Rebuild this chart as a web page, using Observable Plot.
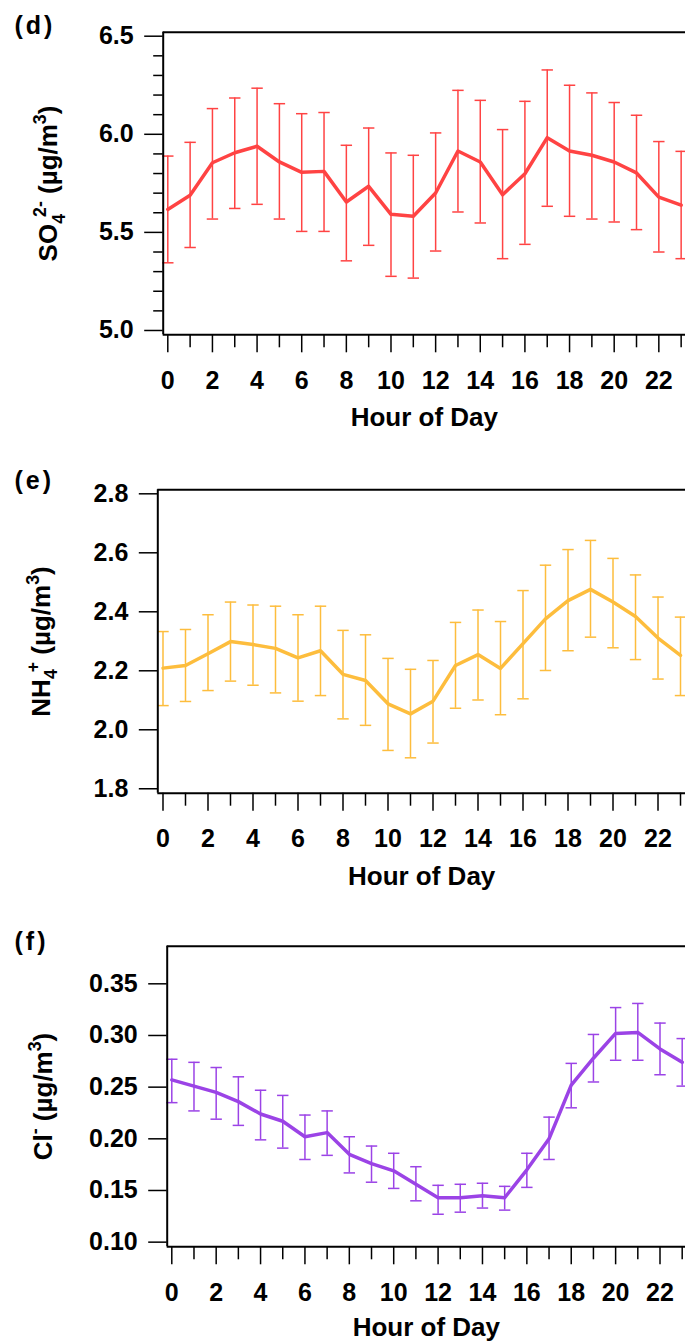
<!DOCTYPE html>
<html><head><meta charset="utf-8">
<script src="https://cdn.jsdelivr.net/npm/d3@7"></script>
<script src="https://cdn.jsdelivr.net/npm/@observablehq/plot@0.6"></script>
<style>
html,body{margin:0;padding:0;background:#fff;overflow:hidden}
#chart svg{display:block}
</style>
</head><body><div id="chart"></div>
<script>
// ---- data ----
const hours = [0,1,2,3,4,5,6,7,8,9,10,11,12,13,14,15,16,17,18,19,20,21,22,23];
const xTickLabels = [0,2,4,6,8,10,12,14,16,18,20,22];
const xMinorTicks = [1,3,5,7,9,11,13,15,17,19,21,23];

const so4Mean = [5.617,5.689,5.855,5.906,5.939,5.859,5.806,5.811,5.655,5.735,5.592,5.582,5.701,5.915,5.859,5.692,5.799,5.983,5.915,5.893,5.859,5.803,5.680,5.639];
const so4Hi   = [5.889,5.959,6.131,6.185,6.235,6.156,6.105,6.111,5.944,6.032,5.905,5.893,6.007,6.224,6.173,6.024,6.168,6.328,6.250,6.211,6.162,6.097,5.963,5.913];
const so4Lo   = [5.345,5.423,5.568,5.622,5.643,5.568,5.505,5.505,5.355,5.434,5.276,5.267,5.405,5.604,5.548,5.366,5.439,5.633,5.582,5.568,5.553,5.514,5.400,5.366];
const so4Ticks = [5.0,5.5,6.0,6.5];
const so4Minor = [5.1,5.2,5.3,5.4,5.6,5.7,5.8,5.9,6.1,6.2,6.3,6.4];

const nh4Mean = [2.209,2.218,2.258,2.299,2.289,2.276,2.244,2.268,2.188,2.167,2.088,2.054,2.097,2.218,2.255,2.208,2.292,2.376,2.438,2.476,2.433,2.384,2.311,2.252];
const nh4Hi   = [2.333,2.340,2.390,2.433,2.423,2.419,2.390,2.419,2.337,2.322,2.242,2.205,2.235,2.364,2.406,2.367,2.472,2.558,2.611,2.642,2.581,2.525,2.450,2.382];
const nh4Lo   = [2.082,2.096,2.133,2.165,2.151,2.125,2.097,2.116,2.037,2.015,1.930,1.905,1.955,2.073,2.101,2.051,2.105,2.201,2.268,2.314,2.278,2.238,2.172,2.116];
const nh4Ticks = [1.8,2.0,2.2,2.4,2.6,2.8];

const clMean = [0.257,0.251,0.245,0.236,0.224,0.217,0.202,0.206,0.185,0.176,0.169,0.156,0.143,0.143,0.145,0.143,0.170,0.200,0.252,0.278,0.302,0.303,0.287,0.274];
const clHi   = [0.277,0.274,0.269,0.260,0.247,0.242,0.223,0.227,0.202,0.193,0.186,0.173,0.155,0.156,0.157,0.154,0.186,0.221,0.273,0.301,0.327,0.331,0.312,0.297];
const clLo   = [0.235,0.227,0.219,0.213,0.199,0.191,0.180,0.184,0.167,0.158,0.152,0.140,0.127,0.129,0.133,0.131,0.153,0.180,0.230,0.255,0.276,0.276,0.262,0.251];
const clTicks = [0.10,0.15,0.20,0.25,0.30,0.35];

const xTitle = "Hour of Day";

// ---- drawing ----
const FONT = "'Liberation Sans', Arial, Helvetica, sans-serif";
const NS = "http://www.w3.org/2000/svg";
const capSymbol = {draw(ctx, size){ const w = Math.sqrt(size/Math.PI); ctx.moveTo(-w,0); ctx.lineTo(w,0); }};

function richLabel(svg, plain, parts, fs){
  const t = [...svg.querySelectorAll("text")].find(e => e.textContent === plain);
  if (!t) return;
  t.textContent = "";
  let cur = 0;
  for (const p of parts){
    const ts = document.createElementNS(NS, "tspan");
    const off = p.s === "sub" ? 0.28*fs : p.s === "sup" ? -0.42*fs : 0;
    ts.setAttribute("dy", (off - cur).toFixed(2));
    if (p.dx) ts.setAttribute("dx", p.dx);
    cur = off;
    if (p.s) ts.setAttribute("font-size", (0.68*fs).toFixed(1));
    ts.textContent = p.t;
    t.appendChild(ts);
  }
}

function makePanel(cfg){
  const rows = hours.map((h,i) => ({hour:h, mean:cfg.mean[i], hi:cfg.hi[i], lo:cfg.lo[i]}));
  const marks = [
    Plot.ruleX(rows, {x:"hour", y1:"lo", y2:"hi", stroke:cfg.color, strokeWidth:1.5}),
    Plot.dot(rows, {x:"hour", y:"hi", symbol:capSymbol, r:5.7, fill:"none", stroke:cfg.color, strokeWidth:1.5}),
    Plot.dot(rows, {x:"hour", y:"lo", symbol:capSymbol, r:5.7, fill:"none", stroke:cfg.color, strokeWidth:1.5}),
    Plot.line(rows, {x:"hour", y:"mean", stroke:cfg.color, strokeWidth:3.5, strokeLinejoin:"round"}),
    Plot.ruleY([cfg.yd[1]], {stroke:"black", strokeWidth:2}),
    Plot.ruleY([cfg.yd[0]], {stroke:"black", strokeWidth:2}),
    Plot.ruleX([cfg.xd[0]], {stroke:"black", strokeWidth:2}),
    Plot.axisY(cfg.yTicks, {anchor:"left", label:null, tickSize:18.5, tickPadding:11, tickFormat:d3.format(cfg.fmt), fontSize:25, fontWeight:"bold", strokeWidth:1.5}),
    Plot.axisX(xTickLabels, {anchor:"bottom", label:null, tickSize:18, tickPadding:18.5, tickFormat:d3.format("d"), fontSize:25, fontWeight:"bold", strokeWidth:1.5}),
    Plot.axisX(xMinorTicks, {anchor:"bottom", label:null, tickSize:13, tickFormat:() => "", strokeWidth:1.5}),
    Plot.text([xTitle], {frameAnchor:"bottom", lineAnchor:"middle", dy:cfg.titleDy, fontSize:26, fontWeight:"bold"}),
    Plot.text([cfg.yPlain], {frameAnchor:"left", rotate:-90, textAnchor:"middle", lineAnchor:"middle", dx:cfg.yDx, fontSize:26, fontWeight:"bold"}),
    Plot.text([cfg.tag], {frameAnchor:"top-left", textAnchor:"start", lineAnchor:"bottom", dx:cfg.tagDx, dy:cfg.tagDy, fontSize:25, fontWeight:"bold"})
  ];
  if (cfg.yMinor) marks.splice(8, 0, Plot.axisY(cfg.yMinor, {anchor:"left", label:null, tickSize:9.5, tickFormat:() => "", strokeWidth:1.5}));
  const svg = Plot.plot({
    width:685, height:cfg.height,
    marginTop:cfg.mt, marginBottom:cfg.mb, marginLeft:cfg.ml, marginRight:0,
    x:{domain:cfg.xd, axis:null},
    y:{domain:cfg.yd, axis:null},
    style:{fontFamily:FONT, fontWeight:"bold", fontSize:"25px", color:"black", background:"white", overflow:"visible"},
    marks
  });
  richLabel(svg, cfg.yPlain, cfg.yParts, 26);
  const tagEl = [...svg.querySelectorAll("text")].find(e => e.textContent === cfg.tag);
  if (tagEl) tagEl.style.letterSpacing = "3px";
  return svg;
}

const chart = document.getElementById("chart");

chart.appendChild(makePanel({
  mean:so4Mean, hi:so4Hi, lo:so4Lo, color:"#ff4343",
  height:450, mt:31.7, mb:115.7, ml:162.7,
  xd:[-0.206, 23.195], yd:[4.978, 6.5204],
  yTicks:so4Ticks, yMinor:so4Minor, fmt:".1f",
  yPlain:"SO42- (µg/m3)",
  yParts:[{t:"SO"},{t:"4",s:"sub"},{t:"2-",s:"sup",dx:-3},{t:" (µg/m"},{t:"3",s:"sup"},{t:")"}],
  yDx:-114.2, titleDy:83, tag:"(d)", tagDx:-148.7, tagDy:2
}));

chart.appendChild(makePanel({
  mean:nh4Mean, hi:nh4Hi, lo:nh4Lo, color:"#fdbd3d",
  height:450, mt:39.3, mb:107.3, ml:157.3,
  xd:[-0.231, 23.222], yd:[1.785, 2.8136],
  yTicks:nh4Ticks, yMinor:null, fmt:".1f",
  yPlain:"NH4+ (µg/m3)",
  yParts:[{t:"NH"},{t:"4",s:"sub"},{t:"+",s:"sup",dx:-3},{t:" (µg/m"},{t:"3",s:"sup"},{t:")"}],
  yDx:-116.6, titleDy:83, tag:"(e)", tagDx:-143.3, tagDy:-1
}));

chart.appendChild(makePanel({
  mean:clMean, hi:clHi, lo:clLo, color:"#9b43e6",
  height:444, mt:45.7, mb:97.7, ml:166.7,
  xd:[-0.207, 23.149], yd:[0.0955, 0.3864],
  yTicks:clTicks, yMinor:null, fmt:".2f",
  yPlain:"Cl- (µg/m3)",
  yParts:[{t:"Cl"},{t:"-",s:"sup"},{t:" (µg/m"},{t:"3",s:"sup"},{t:")"}],
  yDx:-123.5, titleDy:81, tag:"(f)", tagDx:-152.7, tagDy:3.3
}));
</script>
</body></html>
